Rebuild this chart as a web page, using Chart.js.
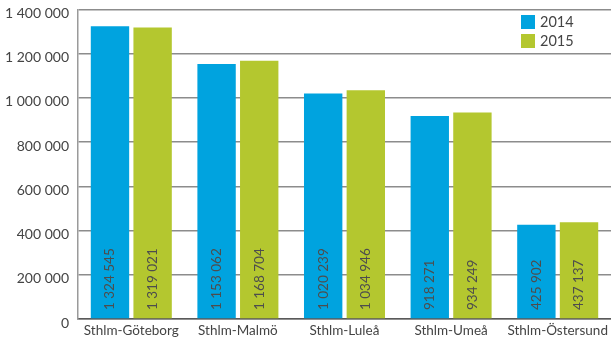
<!DOCTYPE html>
<html>
<head>
<meta charset="utf-8">
<script src="https://cdn.jsdelivr.net/npm/chart.js@4/dist/chart.umd.min.js"></script>
<style>
    body { margin: 0; background: #fff; }
    #wrap { width: 611px; height: 342px; position: relative; overflow: hidden; }
</style>
</head>
<body>
<div id="wrap"><canvas id="chart"></canvas></div>
<script>
const routes = ['Sthlm-Göteborg', 'Sthlm-Malmö', 'Sthlm-Luleå', 'Sthlm-Umeå', 'Sthlm-Östersund'];
const values2014 = [1324545, 1153062, 1020239, 918271, 425902];
const values2015 = [1319021, 1168704, 1034946, 934249, 437137];
const yTicks = [0, 200000, 400000, 600000, 800000, 1000000, 1200000, 1400000];

const FONT = 'Lato, "Open Sans", sans-serif';

// 1324545 -> "1 324 545"
const spaced = (n) => String(n).replace(/\B(?=(\d{3})+(?!\d))/g, ' ');

const barLabels = {
    id: 'barLabels',
    afterDatasetsDraw: (chart) => {
        const ctx = chart.ctx;
        const base = chart.scales.y.getPixelForValue(0);
        ctx.save();
        ctx.font = '13.5px ' + FONT;
        ctx.fillStyle = '#4d4d4d';
        ctx.textAlign = 'left';
        ctx.textBaseline = 'middle';
        chart.data.datasets.forEach((ds, i) => {
            chart.getDatasetMeta(i).data.forEach((bar, j) => {
                ctx.save();
                ctx.translate(bar.x, base - 9);
                ctx.rotate(-Math.PI / 2);
                ctx.fillText(spaced(ds.data[j]), 0, 0);
                ctx.restore();
            });
        });
        ctx.restore();
    }
};

const cornerLegend = {
    id: 'cornerLegend',
    afterDraw: (chart) => {
        const ctx = chart.ctx;
        ctx.save();
        ctx.font = '14.5px ' + FONT;
        ctx.textBaseline = 'middle';
        chart.data.datasets.forEach((ds, i) => {
            const y = 15 + i * 19;
            ctx.fillStyle = ds.backgroundColor;
            ctx.fillRect(521, y, 14, 14);
            ctx.fillStyle = '#444';
            ctx.fillText(ds.label, 540, y + 7.5);
        });
        ctx.restore();
    }
};

new Chart(document.getElementById('chart'), {
    type: 'bar',
    data: {
        labels: routes,
        datasets: [
            { label: '2014', data: values2014, backgroundColor: '#00A3DF' },
            { label: '2015', data: values2015, backgroundColor: '#B4C72F' }
        ]
    },
    options: {
        responsive: true,
        maintainAspectRatio: false,
        animation: false,
        layout: { padding: { top: 9.5, right: -4.5, left: 0, bottom: 0 } },
        categoryPercentage: 0.8,
        barPercentage: 0.9,
        scales: {
            x: {
                grid: { display: false, drawTicks: false },
                border: { display: true, color: '#5a5a5a', width: 1.5 },
                ticks: { color: '#444', font: { family: FONT, size: 13.5 }, padding: 4, maxRotation: 0, autoSkip: false },
                afterFit: (scale) => {
                    scale.height = 23;
                    scale.paddingLeft = 0;
                    scale.paddingRight = 0;
                }
            },
            y: {
                min: 0,
                max: 1400000,
                afterBuildTicks: (scale) => { scale.ticks = yTicks.map(v => ({ value: v })); },
                grid: { color: '#8c8c8c', lineWidth: 1.5, drawTicks: false },
                border: { display: true, color: '#9a9a9a', width: 1.5 },
                ticks: {
                    color: '#444',
                    font: { family: FONT, size: 14 },
                    padding: 9,
                    labelOffset: 4,
                    callback: (value) => spaced(value)
                },
                afterFit: (scale) => {
                    scale.width = 78;
                    scale.paddingTop = 0;
                    scale.paddingBottom = 0;
                }
            }
        },
        plugins: {
            legend: { display: false },
            tooltip: { enabled: false }
        }
    },
    plugins: [barLabels, cornerLegend]
});
</script>
</body>
</html>
